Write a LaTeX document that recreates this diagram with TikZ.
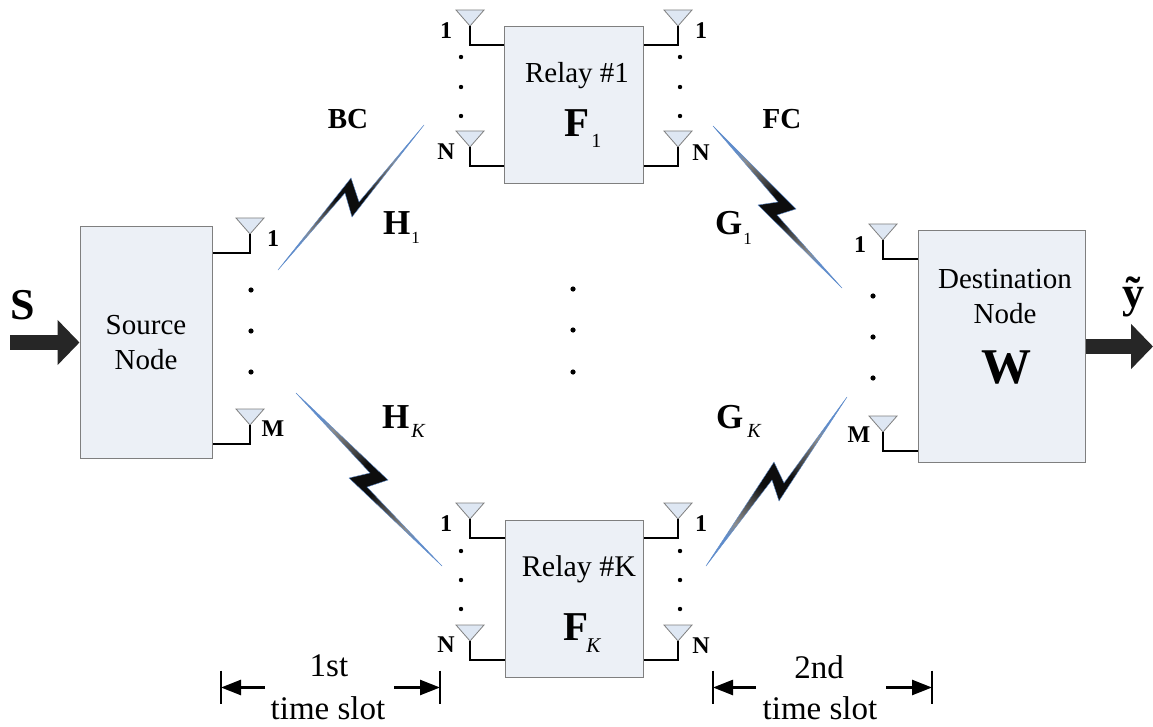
\documentclass[tikz,border=0pt]{standalone}
\usepackage{fontspec}
\setmainfont{Liberation Serif}
\usetikzlibrary{arrows.meta,calc}
\definecolor{boxfill}{HTML}{ECF0F6}
\definecolor{antfill}{HTML}{DEE7F3}
\definecolor{boxline}{HTML}{7F7F7F}
\definecolor{boltblue}{HTML}{5F8CCB}
\definecolor{arrowdark}{HTML}{262626}
\pgfdeclarehorizontalshading{boltfade}{100bp}{color(0bp)=(boltblue);color(26bp)=(boltblue);color(31bp)=(black!45);color(41bp)=(black!75);color(46bp)=(black!95);color(54bp)=(black!95);color(59bp)=(black!75);color(69bp)=(black!45);color(74bp)=(boltblue);color(100bp)=(boltblue)}
\tikzset{
	block/.style={draw=boxline, fill=boxfill, line width=1pt, inner sep=0pt},
	boxtext/.style={inner sep=0pt, font=\fontsize{29}{35.5}\selectfont, align=center},
	portnum/.style={inner sep=0pt, font=\fontsize{24}{24}\selectfont\bfseries},
	slottext/.style={inner sep=0pt, font=\fontsize{33}{33}\selectfont},
	chanlabel/.style={inner sep=0pt, anchor=base west},
	antshape/.style={draw=boxline, fill=antfill, line width=0.8pt},
	feedline/.style={draw=black, line width=1.7pt},
	bigarrow/.style={draw=arrowdark, line width=15pt, -{Triangle[length=22pt,width=44pt]}},
	slotbar/.style={draw=black, line width=2pt},
	slotarrow/.style={draw=black, line width=2.5pt, -{Triangle[length=20pt,width=15pt]}},
	bolt/.style={shading=boltfade, draw=boltblue, line width=0.4pt}
}
% tip of the antenna, then the feed down and across to the box side
\newcommand{\antenna}[4]{
	\coordinate (#1) at (#2, #3);
	\draw[antshape] (#2-14, #3-16) -- (#2+14, #3-16) -- (#1) -- cycle;
	\draw[feedline] (#1) -- ++(0, 19) coordinate (#1f) -- (#1f -| #4);
}
\newcommand{\chan}[6]{{\fontsize{#1}{#1}\selectfont\bfseries #2}\kern#3pt\raisebox{-#4pt}{\fontsize{#5}{#5}\selectfont #6}}
\begin{document}
\begin{tikzpicture}[x=1pt, y=-1pt]
		%%%%% START %%%%%
		\useasboundingbox (0, 0) rectangle (1153, 727);
		
		\node[block, boxtext, minimum width=132pt, minimum height=231pt] (source) at (146, 342.5) {Source\\Node};
		\node[block, minimum width=139pt, minimum height=157pt] (relayA) at (573.5, 105.5) {};
		\node[block, minimum width=138pt, minimum height=157pt] (relayK) at (574, 599) {};
		\node[block, minimum width=167pt, minimum height=231pt] (dest) at (1001.5, 346.5) {};
		
		\node[boxtext] (relayAtext) at (577, 76) {Relay \#1};
		\node[boxtext, font=\fontsize{30}{35}\selectfont] (relayKtext) at (579, 569) {Relay \#K};
		\node[boxtext] (desttext) at (1005, 296.5) {Destination\\Node};
		\node[inner sep=0pt, font=\fontsize{50}{50}\selectfont\bfseries] (destW) at (1006, 368) {W};
		
		\antenna{srcOne}{250}{234}{source.east}
		\antenna{srcM}{250}{425}{source.east}
		\antenna{destOne}{883}{240}{dest.west}
		\antenna{destM}{883}{432}{dest.west}
		\antenna{aLeftOne}{470}{26}{relayA.west}
		\antenna{aLeftN}{470}{147}{relayA.west}
		\antenna{aRightOne}{678}{26}{relayA.east}
		\antenna{aRightN}{678}{147}{relayA.east}
		\antenna{kLeftOne}{470}{519}{relayK.west}
		\antenna{kLeftN}{470}{641}{relayK.west}
		\antenna{kRightOne}{678}{519}{relayK.east}
		\antenna{kRightN}{678}{641}{relayK.east}
		
		\node[portnum] (lblSrcOne) at (273, 239) {1};
		\node[portnum] (lblSrcM) at (273, 429) {M};
		\node[portnum] (lblDestOne) at (860, 245) {1};
		\node[portnum] (lblDestM) at (859, 435) {M};
		\node[portnum] (lblAOne) at (446, 31) {1};
		\node[portnum] (lblAN) at (446, 152) {N};
		\node[portnum] (lblBOne) at (701, 31) {1};
		\node[portnum] (lblBN) at (701, 153) {N};
		\node[portnum] (lblCOne) at (446, 524) {1};
		\node[portnum] (lblCN) at (446, 645) {N};
		\node[portnum] (lblDOne) at (701, 524) {1};
		\node[portnum] (lblDN) at (701, 646) {N};
		
		\foreach \px/\pya/\pyb/\pyc/\prad in {251/290/331/372/2.6, 873/296/337/378/2.6, 573/289/330/372/2.6, 461/57/87/116/2.2, 680/57/87/116/2.2, 461/551/580/609/2.2, 680/551/580/609/2.2} {
			\fill (\px, \pya) circle (\prad);
			\fill (\px, \pyb) circle (\prad);
			\fill (\px, \pyc) circle (\prad);
		}
		
		\path[bolt, shade, shading angle=45] (278, 270) -- (351, 178) -- (359, 202) -- (424, 125) -- (352, 217) -- (345, 193) -- cycle;
		\path[bolt, shade, shading angle=-50] (713, 126) -- (796, 209) -- (777, 215) -- (842, 288) -- (758, 205) -- (778, 202) -- cycle;
		\path[bolt, shade, shading angle=-50] (296, 393) -- (388, 480) -- (367, 487) -- (442, 566) -- (349, 478) -- (370, 473) -- cycle;
		\path[bolt, shade, shading angle=50] (706, 566) -- (774, 462) -- (784, 483) -- (847, 397) -- (779, 501) -- (772, 480) -- cycle;
		
		\node[portnum, font=\fontsize{29}{29}\selectfont\bfseries] (bcLabel) at (348, 119) {BC};
		\node[portnum, font=\fontsize{29}{29}\selectfont\bfseries] (fcLabel) at (782, 119) {FC};
		
		\node[chanlabel] (hOne) at (383, 235) {\chan{35}{H}{1}{9}{17}{1}};
		\node[chanlabel] (hK) at (382, 428) {\chan{35}{H}{2}{9}{20}{\itshape K}};
		\node[chanlabel] (gOne) at (715, 235) {\chan{35}{G}{1}{10}{17}{1}};
		\node[chanlabel] (gK) at (716, 428) {\chan{35}{G}{4}{9}{20}{\itshape K}};
		\node[chanlabel] (fOne) at (564, 137) {\chan{41}{F}{2}{11}{20}{1}};
		\node[chanlabel] (fK) at (563, 640) {\chan{41}{F}{-2}{12}{21}{\itshape K}};
		
		\coordinate (inEnd) at (10, 342.5);
		\coordinate (outEnd) at (1153, 346.5);
		\draw[bigarrow] (inEnd) -- (source.west);
		\draw[bigarrow] (dest.east) -- (outEnd);
		\node[inner sep=0pt, font=\fontsize{44}{44}\selectfont\bfseries] (sLabel) at (23, 305) {S};
		\node[inner sep=0pt, font=\fontsize{44}{44}\selectfont\bfseries] (yLabel) at (1133, 297) {\~{y}};
		
		% time slot marks
		\coordinate (slotAl) at (221, 687.5);
		\coordinate (slotAr) at (440, 687.5);
		\coordinate (slotBl) at (713, 687.5);
		\coordinate (slotBr) at (932, 687.5);
		\foreach \barname in {slotAl, slotAr, slotBl, slotBr} {
			\draw[slotbar] ($(\barname)+(0,-17)$) -- ($(\barname)+(0,16)$);
		}
		\draw[slotarrow] (265, 687.5) -- (slotAl);
		\draw[slotarrow] (394, 687.5) -- (slotAr);
		\draw[slotarrow] (756, 687.5) -- (slotBl);
		\draw[slotarrow] (886, 687.5) -- (slotBr);
		\node[slottext] (slotAtop) at (329, 666) {1st};
		\node[slottext] (slotAbot) at (328, 708.5) {time slot};
		\node[slottext] (slotBtop) at (819, 667) {2nd};
		\node[slottext] (slotBbot) at (820, 708.5) {time slot};
		
		%%%%% END %%%%%
	\end{tikzpicture}
\end{document}
